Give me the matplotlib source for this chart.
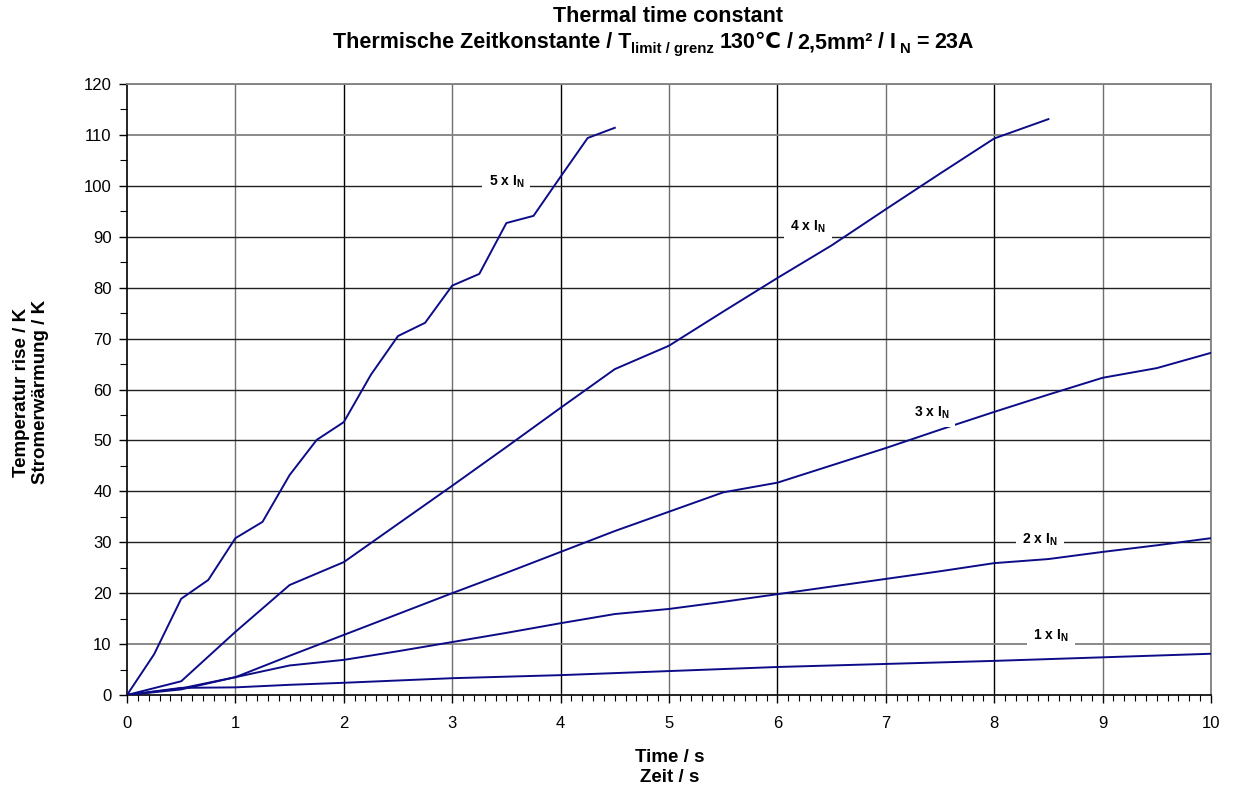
import matplotlib
matplotlib.use("Agg")
import matplotlib.pyplot as plt
from matplotlib.ticker import MultipleLocator

plt.rcParams['font.family'] = ['Liberation Sans', 'DejaVu Sans']
plt.rcParams['mathtext.fontset'] = 'custom'
plt.rcParams['mathtext.rm'] = 'Liberation Sans'
plt.rcParams['mathtext.bf'] = 'Liberation Sans:bold'
plt.rcParams['mathtext.it'] = 'Liberation Sans:italic'

# ---- data ----
t_1x = [0, 0.5, 1, 1.5, 2, 3, 4, 4.5, 5, 6, 7, 8, 9, 10]
y_1x = [0, 1.4, 1.5, 2.0, 2.4, 3.3, 3.9, 4.3, 4.7, 5.5, 6.1, 6.7, 7.4, 8.1]

t_2x = [0, 0.5, 1, 1.5, 2, 2.5, 3, 3.5, 4, 4.5, 5, 5.5, 6, 6.5, 7, 7.5, 8, 8.5, 9, 9.5, 10]
y_2x = [0, 1.1, 3.5, 5.8, 6.9, 8.6, 10.4, 12.2, 14.1, 15.9, 16.9, 18.3, 19.8, 21.3,
        22.8, 24.3, 25.9, 26.7, 28.1, 29.4, 30.8]

t_3x = [0, 0.5, 1, 1.5, 2, 2.5, 3, 3.5, 4, 4.5, 5, 5.5, 6, 6.5, 7, 7.5, 8, 8.5, 9, 9.5, 10]
y_3x = [0, 1.3, 3.5, 7.7, 11.8, 15.9, 20.0, 24.0, 28.1, 32.2, 36.0, 39.8, 41.7, 45.1,
        48.5, 52.1, 55.6, 59.0, 62.3, 64.2, 67.2]

t_4x = [0, 0.5, 1, 1.5, 2, 2.5, 3, 3.5, 4, 4.5, 5, 5.5, 6, 6.5, 7, 7.5, 8, 8.5]
y_4x = [0, 2.7, 12.4, 21.6, 26.1, 33.6, 41.1, 48.7, 56.4, 64.0, 68.6, 75.3, 81.9, 88.3,
        95.4, 102.4, 109.3, 113.1]

t_5x = [0, 0.25, 0.5, 0.75, 1, 1.25, 1.5, 1.75, 2, 2.25, 2.5, 2.75, 3, 3.25, 3.5, 3.75,
        4, 4.25, 4.5]
y_5x = [0, 8.0, 18.9, 22.6, 30.8, 34.0, 43.2, 50.1, 53.6, 62.9, 70.5, 73.1, 80.4, 82.7,
        92.7, 94.1, 101.8, 109.4, 111.4]

series = [(t_1x, y_1x), (t_2x, y_2x), (t_3x, y_3x), (t_4x, y_4x), (t_5x, y_5x)]
labels = ["1", "2", "3", "4", "5"]
label_pos = [(8.52, 11.6), (8.42, 30.4), (7.42, 55.4), (6.28, 92.0), (3.5, 100.8)]

x_ticks = list(range(0, 11))
y_ticks = list(range(0, 121, 10))

title_line1 = "Thermal time constant"
# second title line as (text, is_subscript) pieces; None = word space
title_line2 = [("Thermische Zeitkonstante / T", False), ("limit / grenz", True), None,
               ("130℃", False), None, ("/", False), None, ("2,5mm²", False), None,
               ("/", False), None, ("I", False), None, ("N", True), None,
               ("=", False), None, ("23A", False)]

# ---- figure ----
W, H = 1233, 791
fig = plt.figure(figsize=(W / 100, H / 100), dpi=100)
ax = fig.add_axes([127 / W, 1 - 695 / H, (1211 - 127) / W, (695 - 84) / H])

ax.set_xlim(0, 10)
ax.set_ylim(0, 120)

# grid lines
for xv in x_ticks[1:]:
    c = '#000000' if xv % 2 == 0 else '#707070'
    ax.axvline(xv, color=c, lw=1.0, zorder=1)
for yv in y_ticks[1:]:
    c = '#808080' if yv in (10, 110, 120) else '#202020'
    lw = 1.3 if yv in (10, 110, 120) else 1.0
    ax.axhline(yv, color=c, lw=lw, zorder=1)

for (t, y) in series:
    ax.plot(t, y, color='#0c0c88', lw=1.4, zorder=3)

for lab, (lx, ly) in zip(labels, label_pos):
    ax.text(lx, ly, lab + r" x I$_{\mathbf{N}}$", fontsize=10, fontweight='bold',
            ha='center', va='center', zorder=4,
            bbox=dict(facecolor='white', edgecolor='none', pad=4.5))

ax.set_xticks(x_ticks)
ax.set_yticks(y_ticks)
ax.xaxis.set_minor_locator(MultipleLocator(0.1))
ax.yaxis.set_minor_locator(MultipleLocator(5))
ax.tick_params(axis='both', which='major', labelsize=12, direction='out', length=6, width=1)
ax.tick_params(axis='x', which='minor', direction='out', length=4, width=0.8)
ax.tick_params(axis='y', which='minor', direction='out', length=5, width=0.8)
ax.tick_params(axis='x', which='major', pad=9)
ax.tick_params(axis='y', which='major', pad=5)

ax.spines['left'].set_color('black')
ax.spines['bottom'].set_color('black')
ax.spines['left'].set_linewidth(1.2)
ax.spines['bottom'].set_linewidth(1.2)
ax.spines['top'].set_color('#808080')
ax.spines['right'].set_color('#808080')
ax.spines['top'].set_linewidth(1.3)
ax.spines['right'].set_linewidth(1.3)

# axis titles
fig.text(670 / W, 1 - 767.5 / H, "Time / s\nZeit / s", fontsize=13.5, fontweight='bold',
         ha='center', va='center', multialignment='center', linespacing=1.3)
fig.text(31 / W, 1 - 392 / H, "Temperatur rise / K\nStromerwärmung / K", fontsize=13.5,
         fontweight='bold', rotation=90, ha='center', va='center',
         multialignment='center', linespacing=1.1)

# chart title
TS = 15.5
fig.text(668 / W, 1 - 17 / H, title_line1, fontsize=TS, fontweight='bold',
         ha='center', va='center')

renderer = fig.canvas.get_renderer()
space_px = 0.24 * TS * 100 / 72
base_y = 1 - 48 / H            # baseline of line 2
sub_dy = 5 / H                 # subscript drop
created = []
x_px = 0.0
for piece in title_line2:
    if piece is None:
        x_px += space_px
        continue
    s, is_sub = piece
    fs = TS * 0.7 if is_sub else TS
    y = base_y - sub_dy if is_sub else base_y
    t = fig.text(0, y, s, fontsize=fs, fontweight='bold', ha='left', va='baseline')
    bb = t.get_window_extent(renderer)
    created.append((t, x_px))
    x_px += bb.width
total = x_px
x0 = 653 - total / 2
for t, off in created:
    t.set_x((x0 + off) / W)

fig.savefig("out.png", dpi=100)
